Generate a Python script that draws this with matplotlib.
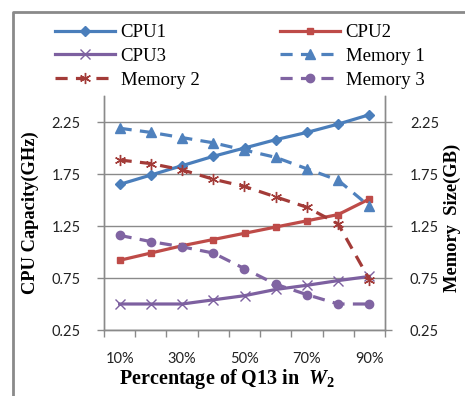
import matplotlib
matplotlib.use("Agg")
import matplotlib.pyplot as plt
from matplotlib.lines import Line2D
import numpy as np

plt.rcParams['mathtext.fontset'] = 'custom'
plt.rcParams['mathtext.rm'] = 'Liberation Serif:bold'
plt.rcParams['mathtext.it'] = 'Liberation Serif:italic:bold'
plt.rcParams['mathtext.bf'] = 'Liberation Serif:bold'

categories = ["10%", "20%", "30%", "40%", "50%", "60%", "70%", "80%", "90%"]
cpu1 = [1.65, 1.74, 1.83, 1.92, 2.00, 2.08, 2.15, 2.23, 2.32]
cpu2 = [0.92, 0.99, 1.06, 1.12, 1.18, 1.24, 1.30, 1.36, 1.51]
cpu3 = [0.50, 0.50, 0.50, 0.54, 0.58, 0.64, 0.68, 0.725, 0.765]
mem1 = [2.19, 2.15, 2.10, 2.05, 1.98, 1.91, 1.80, 1.69, 1.44]
mem2 = [1.885, 1.85, 1.79, 1.70, 1.63, 1.53, 1.43, 1.27, 0.735]
mem3 = [1.16, 1.10, 1.05, 0.99, 0.84, 0.69, 0.59, 0.50, 0.50]
yticks = [0.25, 0.75, 1.25, 1.75, 2.25]
ytick_labels = ["0.25", "0.75", "1.25", "1.75", "2.25"]

W, H = 465, 396
fig = plt.figure(figsize=(W / 100, H / 100), dpi=100)
L, R, B, T = 104, 385, 330, 96
ax = fig.add_axes([L / W, 1 - B / H, (R - L) / W, (B - T) / H])
ax2 = ax.twinx()

x = np.arange(len(categories))
lw = 2.3
dash = (0, (3.8, 2.6))
h1, = ax.plot(x, cpu1, color='#4A7EBB', lw=lw, marker='D', ms=5, label='CPU1')
h2, = ax.plot(x, cpu2, color='#BE4B48', lw=lw, marker='s', ms=5, label='CPU2')
h3, = ax.plot(x, cpu3, color='#7D60A0', lw=lw, marker='x', ms=7, mew=1.0, label='CPU3')
h4, = ax2.plot(x, mem1, color='#4F81BD', lw=lw, ls=dash, marker='^', ms=7, label='Memory 1')
h5, = ax2.plot(x, mem2, color='#A33B38', lw=lw, ls=dash, marker=(6, 2, 0), ms=8, mew=1.0, label='Memory 2')
h6, = ax2.plot(x, mem3, color='#8064A2', lw=lw, ls=dash, marker='o', ms=6, label='Memory 3')

for a in (ax, ax2):
    a.set_ylim(0.25, 2.5)
    a.set_xlim(-0.5, len(categories) - 0.5)
    a.set_yticks(yticks)
    a.set_yticklabels(ytick_labels, fontsize=10.5, family='Lato', color='#222222')
    for s in a.spines.values():
        s.set_color('#8a8a8a')
        s.set_linewidth(1.0)
    a.spines['top'].set_visible(False)

ax.tick_params(axis='y', length=5, width=1, color='#8a8a8a', pad=12)
ax2.tick_params(axis='y', length=5, width=1, color='#8a8a8a', pad=13)
ax.grid(axis='y', color='#8a8a8a', lw=1.0)
ax.set_axisbelow(True)

ax.set_xticks(np.arange(-0.5, len(categories), 1.0))
ax.set_xticklabels([])
ax.set_xticks(x[::2], minor=True)
ax.set_xticklabels(categories[::2], minor=True, fontsize=10.5, family='Lato', color='#222222')
ax.tick_params(axis='x', which='major', length=5, width=1, color='#8a8a8a', direction='out')
ax.tick_params(axis='x', which='minor', length=0, pad=16)

fig.text(30 / W, 1 - 213 / H, 'CPU Capacity(GHz)', rotation=90, ha='center', va='center',
         family='Liberation Serif', fontweight='bold', fontsize=13.3)
fig.text(452 / W, 1 - 218 / H, 'Memory  Size(GB)', rotation=90, ha='center', va='center',
         family='Liberation Serif', fontweight='bold', fontsize=13.3)
fig.text(227 / W, 1 - 379 / H, r'Percentage of Q13 in  $W_2$', ha='center', va='center',
         family='Liberation Serif', fontweight='bold', fontsize=14.5)

handles = [h1, h3, h5, h2, h4, h6]
leg = fig.legend(handles=handles, loc='upper left', bbox_to_anchor=(55 / W, 1 - 24 / H),
                 ncol=2, frameon=False, prop={'family': 'Liberation Serif', 'size': 13.5},
                 handlelength=3.2, handletextpad=0.3, columnspacing=4.3, labelspacing=0.36,
                 borderaxespad=0, borderpad=0)

fig.add_artist(Line2D([13 / W, 13 / W, 1.0], [0.0, 1 - 12 / H, 1 - 12 / H],
                      transform=fig.transFigure, color='#8a8a8a', lw=2))

fig.savefig('out.png', dpi=100)
